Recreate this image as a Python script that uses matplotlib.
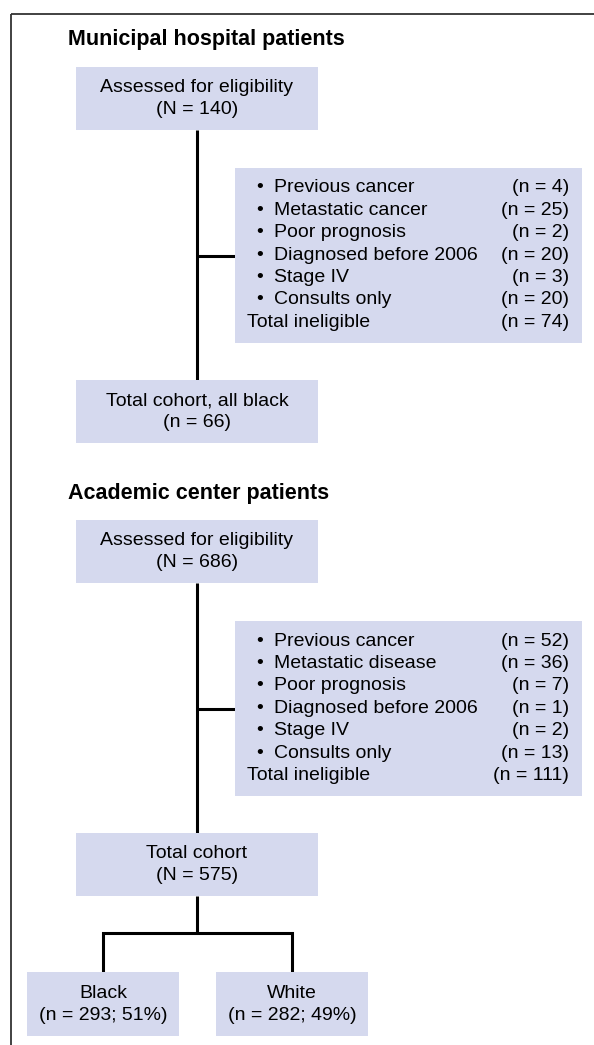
import matplotlib
matplotlib.use("Agg")
import matplotlib.pyplot as plt
from matplotlib.patches import Rectangle

# ---------------- data ----------------
section_titles = ["Municipal hospital patients", "Academic center patients"]

mh_assessed = 140
mh_reasons = ["Previous cancer", "Metastatic cancer", "Poor prognosis",
              "Diagnosed before 2006", "Stage IV", "Consults only"]
mh_counts = [4, 25, 2, 20, 3, 20]
mh_ineligible = 74
mh_cohort = 66

ac_assessed = 686
ac_reasons = ["Previous cancer", "Metastatic disease", "Poor prognosis",
              "Diagnosed before 2006", "Stage IV", "Consults only"]
ac_counts = [52, 36, 7, 1, 2, 13]
ac_ineligible = 111
ac_cohort = 575

race_labels = ["Black", "White"]
race_n = [293, 282]
race_pct = [51, 49]

# ---------------- style ----------------
plt.rcParams['font.family'] = ['Liberation Sans', 'DejaVu Sans']
BOX = "#d5d9ee"
FS = 14
FS_TITLE = 15.5
LW = 2.2

fig = plt.figure(figsize=(5.94, 10.45), dpi=100)
ax = fig.add_axes([0, 0, 1, 1])
ax.set_xlim(0, 594)
ax.set_ylim(1045, 0)
ax.axis("off")

# outer frame (runs off right & bottom edges)
ax.add_patch(Rectangle((11, 14), 620, 1060, fill=False, edgecolor="#333333",
                       linewidth=1.3, zorder=1))


def box(x0, y0, x1, y1):
    ax.add_patch(Rectangle((x0, y0), x1 - x0, y1 - y0, facecolor=BOX,
                           edgecolor="none", zorder=2))


def center_box(x0, y0, x1, y1, line1, line2):
    box(x0, y0, x1, y1)
    cx = (x0 + x1) / 2
    cy = (y0 + y1) / 2
    ax.text(cx, cy - 11, line1, ha="center", va="center", fontsize=FS, zorder=3)
    ax.text(cx, cy + 11, line2, ha="center", va="center", fontsize=FS, zorder=3)


def line(xs, ys):
    ax.plot(xs, ys, color="black", linewidth=LW, solid_capstyle="butt",
            solid_joinstyle="miter", zorder=1.5)


def excl_box(top, reasons, counts, total):
    x0, x1 = 235, 582
    box(x0, top, x1, top + 175)
    step = 22.4
    for i, (r, c) in enumerate(zip(reasons, counts)):
        y = top + 20 + i * step
        ax.text(260, y, "•", ha="center", va="center", fontsize=FS, zorder=3)
        ax.text(274, y, r, ha="left", va="center", fontsize=FS, zorder=3)
        ax.text(569, y, f"(n = {c})", ha="right", va="center", fontsize=FS, zorder=3)
    y = top + 20 + len(reasons) * step
    ax.text(247, y, "Total ineligible", ha="left", va="center", fontsize=FS, zorder=3)
    ax.text(569, y, f"(n = {total})", ha="right", va="center", fontsize=FS, zorder=3)


def section(y_title, title, assessed, reasons, counts, total, cohort_l1, cohort_l2):
    ax.text(68, y_title, title, ha="left", va="center", fontsize=FS_TITLE,
            fontweight="bold", zorder=3)
    top = y_title + 27
    cx = 197
    center_box(76, top, 318, top + 63, "Assessed for eligibility",
               f"(N = {assessed})")
    ex_top = top + 101
    line([cx, cx], [top + 63, top + 313])
    line([cx, 235], [ex_top + 88, ex_top + 88])
    excl_box(ex_top, reasons, counts, total)
    center_box(76, top + 313, 318, top + 376, cohort_l1, cohort_l2)
    return top + 376


section(40, section_titles[0], mh_assessed, mh_reasons, mh_counts,
        mh_ineligible, "Total cohort, all black", f"(n = {mh_cohort})")
bottom = section(493, section_titles[1], ac_assessed, ac_reasons, ac_counts,
                 ac_ineligible, "Total cohort", f"(N = {ac_cohort})")

# split by race
branch_x = [103, 292]
ax.plot([197, 197], [bottom, 933], color="black", linewidth=LW,
        solid_capstyle="butt", zorder=1.5)
ax.plot([branch_x[0], branch_x[0], branch_x[1], branch_x[1]],
        [972, 933, 933, 972], color="black", linewidth=LW,
        solid_capstyle="butt", solid_joinstyle="miter", zorder=1.5)
for bx, lab, n, p in zip(branch_x, race_labels, race_n, race_pct):
    center_box(bx - 76, 972, bx + 76, 1036, lab, f"(n = {n}; {p}%)")

fig.savefig("out.png", dpi=100)
